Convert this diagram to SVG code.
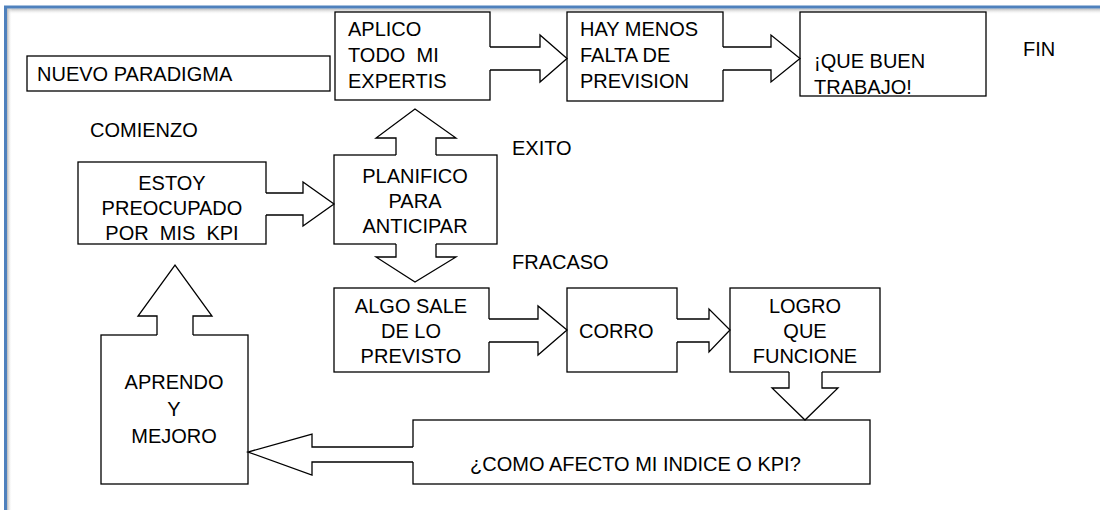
<svg xmlns="http://www.w3.org/2000/svg" width="1100" height="510" viewBox="0 0 1100 510">
<defs>
<linearGradient id="shT" x1="0" y1="0" x2="0" y2="1"><stop offset="0" stop-color="#b8b8b8"/><stop offset="1" stop-color="#ffffff" stop-opacity="0"/></linearGradient>
<linearGradient id="shL" x1="0" y1="0" x2="1" y2="0"><stop offset="0" stop-color="#b8b8b8"/><stop offset="1" stop-color="#ffffff" stop-opacity="0"/></linearGradient>
</defs>
<style>
.box{fill:#fff;stroke:#000;stroke-width:1.3}
.t{font-family:"Liberation Sans",Arial,sans-serif;font-size:20px;fill:#000;white-space:pre}
.c{text-anchor:middle}
.af{fill:#fff;stroke:none}
.ao{fill:none;stroke:#000;stroke-width:1.3;stroke-linejoin:miter}
</style>
<rect x="0" y="0" width="1100" height="510" fill="#fff"/>
<g id="frame">
<rect x="7" y="8.5" width="1093" height="6" fill="url(#shT)"/>
<rect x="7" y="8.5" width="5" height="501.5" fill="url(#shL)"/>
<path d="M5.5,510 V7 H1100" fill="none" stroke="#4f81bd" stroke-width="3"/>
</g>
<g id="nuevo"><rect class="box" x="27" y="56" width="303" height="35"/><text class="t" x="37" y="81">NUEVO PARADIGMA</text></g>
<g id="aplico"><rect class="box" x="335" y="12" width="155" height="88"/><text class="t" x="348" y="36">APLICO</text><text class="t" x="348" y="62" xml:space="preserve">TODO  MI</text><text class="t" x="348" y="88">EXPERTIS</text></g>
<g id="haymenos"><rect class="box" x="567" y="12" width="156" height="89"/><text class="t" x="580" y="36">HAY MENOS</text><text class="t" x="580" y="62">FALTA DE</text><text class="t" x="580" y="88">PREVISION</text></g>
<g id="quebuen"><rect class="box" x="800" y="12" width="186" height="84"/><text class="t" x="814" y="68">¡QUE BUEN</text><text class="t" x="814" y="94">TRABAJO!</text></g>
<g id="fin"><text class="t" x="1023" y="56">FIN</text></g>
<g id="comienzo"><text class="t" x="90" y="137">COMIENZO</text></g>
<g id="exito"><text class="t" x="512" y="155">EXITO</text></g>
<g id="fracaso"><text class="t" x="512" y="269">FRACASO</text></g>
<g id="estoy"><rect class="box" x="78" y="162" width="188" height="82"/><text class="t c" x="172" y="190">ESTOY</text><text class="t c" x="172" y="215">PREOCUPADO</text><text class="t c" x="172" y="240" xml:space="preserve">POR  MIS  KPI</text></g>
<g id="planifico"><rect class="box" x="334" y="155" width="163" height="89"/><text class="t c" x="415" y="183">PLANIFICO</text><text class="t c" x="415" y="208">PARA</text><text class="t c" x="415" y="233">ANTICIPAR</text></g>
<g id="algo"><rect class="box" x="334" y="288" width="155" height="84"/><text class="t c" x="411" y="313">ALGO SALE</text><text class="t c" x="411" y="338">DE LO</text><text class="t c" x="411" y="363">PREVISTO</text></g>
<g id="corro"><rect class="box" x="567" y="288" width="110" height="84"/><text class="t" x="579" y="338">CORRO</text></g>
<g id="logro"><rect class="box" x="730" y="288" width="150" height="84"/><text class="t c" x="805" y="313">LOGRO</text><text class="t c" x="805" y="338">QUE</text><text class="t c" x="805" y="363">FUNCIONE</text></g>
<g id="como"><rect class="box" x="413" y="420" width="457" height="64"/><text class="t" x="470" y="471">¿COMO AFECTO MI INDICE O KPI?</text></g>
<g id="aprendo"><rect class="box" x="101" y="335" width="147" height="149"/><text class="t c" x="174" y="389">APRENDO</text><text class="t c" x="174" y="416">Y</text><text class="t c" x="174" y="443">MEJORO</text></g>
<g id="connectors">
<polygon class="af" points="488,47 540,47 540,35 567,58.5 540,82 540,70 488,70"/>
<polyline class="ao" points="490,47 540,47 540,35 567,58.5 540,82 540,70 490,70"/>
<polygon class="af" points="721,47 771,47 771,35 800,58.5 771,82 771,70 721,70"/>
<polyline class="ao" points="723,47 771,47 771,35 800,58.5 771,82 771,70 723,70"/>
<polygon class="af" points="264,193 303,193 303,182 334,204 303,226 303,215 264,215"/>
<polyline class="ao" points="266,193 303,193 303,182 334,204 303,226 303,215 266,215"/>
<polygon class="af" points="396,157 396,138 376,138 415,109 456,138 436,138 436,157"/>
<polyline class="ao" points="396,155 396,138 376,138 415,109 456,138 436,138 436,155"/>
<polygon class="af" points="396,242 396,257 376,257 415,282 456,257 436,257 436,242"/>
<polyline class="ao" points="396,244 396,257 376,257 415,282 456,257 436,257 436,244"/>
<polygon class="af" points="487,319 538,319 538,306 567,330 538,355 538,342 487,342"/>
<polyline class="ao" points="489,319 538,319 538,306 567,330 538,355 538,342 489,342"/>
<polygon class="af" points="675,319 709,319 709,309 730,330 709,352 709,342 675,342"/>
<polyline class="ao" points="677,319 709,319 709,309 730,330 709,352 709,342 677,342"/>
<polygon class="af" points="789,370 789,388 772,388 805,420 838,388 822,388 822,370"/>
<polyline class="ao" points="789,372 789,388 772,388 805,420 838,388 822,388 822,372"/>
<polygon class="af" points="415,447 312,447 312,434 248,452 312,475 312,462 415,462"/>
<polyline class="ao" points="413,447 312,447 312,434 248,452 312,475 312,462 413,462"/>
<polygon class="af" points="157,337 157,316 138,316 175,265 212,316 193,316 193,337"/>
<polyline class="ao" points="157,335 157,316 138,316 175,265 212,316 193,316 193,335"/>
</g>
</svg>
